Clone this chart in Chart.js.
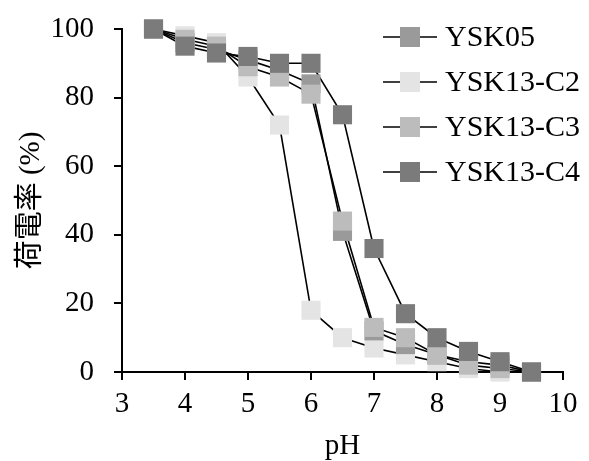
<!DOCTYPE html>
<html>
<head>
<meta charset="utf-8">
<script src="https://cdn.jsdelivr.net/npm/chart.js@4/dist/chart.umd.min.js"></script>
<style>
html,body{margin:0;padding:0;background:#fff;}
#wrap{width:589px;height:461px;}
</style>
</head>
<body>
<div id="wrap"><canvas id="c" width="589" height="461"></canvas></div>
<script>
// ---- data ----
const pH = [3.5, 4, 4.5, 5, 5.5, 6, 6.5, 7, 7.5, 8, 8.5, 9, 9.5];
const ysk05   = [100, 96, 94, 91, 88, 84, 41, 12, 8, 5, 3, 2, 0];
const ysk13C2 = [100, 98, 96, 86, 72, 18, 10, 7, 5, 3, 1, 0, 0];
const ysk13C3 = [100, 97, 95, 89, 86, 81, 44, 13, 10, 5, 2, 1, 0];
const ysk13C4 = [100, 95, 93, 92, 90, 90, 75, 36, 17, 10, 6, 3, 0];
const seriesNames = ['YSK05', 'YSK13-C2', 'YSK13-C3', 'YSK13-C4'];
const xTicks = [3, 4, 5, 6, 7, 8, 9, 10];
const yTicks = [0, 20, 40, 60, 80, 100];

const seriesValues = [ysk05, ysk13C2, ysk13C3, ysk13C4];
const fills = ['#9a9a9a', '#e4e4e4', '#bcbcbc', '#7b7b7b'];
const pointOrder = [2, 3, 1, 0]; // C4 on top

const toXY = vals => pH.map((x, i) => ({x: x, y: vals[i]}));

const datasets = [];
// lines underneath all markers
seriesValues.forEach((vals, i) => {
  datasets.push({
    label: seriesNames[i] + ' line',
    data: toXY(vals),
    showLine: true,
    borderColor: '#000',
    borderWidth: 1.6,
    pointRadius: 0,
    tension: 0,
    clip: false,
    order: 10 + i
  });
});
// markers
seriesValues.forEach((vals, i) => {
  datasets.push({
    label: seriesNames[i],
    data: toXY(vals),
    showLine: false,
    pointStyle: 'rect',
    pointRadius: 13.5,
    pointBackgroundColor: fills[i],
    pointBorderColor: fills[i],
    pointBorderWidth: 0,
    clip: false,
    order: pointOrder[i]
  });
});

const serif = "'Liberation Serif', 'Times New Roman', serif";

const legendPlugin = {
  id: 'customLegend',
  afterDraw(chart) {
    const ctx = chart.ctx;
    const ca = chart.chartArea;
    const x0 = ca.right - 180;
    ctx.save();
    seriesNames.forEach((name, i) => {
      const y = ca.top + 8 + i * 45;
      ctx.strokeStyle = '#000';
      ctx.lineWidth = 1.6;
      ctx.beginPath();
      ctx.moveTo(x0, y);
      ctx.lineTo(x0 + 54, y);
      ctx.stroke();
      ctx.fillStyle = fills[i];
      ctx.fillRect(x0 + 17, y - 10, 20, 20);
      ctx.fillStyle = '#000';
      ctx.font = "30px " + serif;
      ctx.textBaseline = 'middle';
      ctx.textAlign = 'left';
      ctx.fillText(name, x0 + 62, y + 1);
    });
    ctx.restore();
  }
};

new Chart(document.getElementById('c'), {
  type: 'scatter',
  data: { datasets },
  options: {
    responsive: false,
    animation: false,
    events: [],
    layout: { padding: { top: 29, right: 26, left: 0, bottom: 0 } },
    plugins: { legend: { display: false }, tooltip: { enabled: false } },
    scales: {
      x: {
        type: 'linear',
        min: 3, max: 10,
        afterFit: s => { s.height = 89; },
        afterBuildTicks: s => { s.ticks = xTicks.map(v => ({value: v})); },
        border: { display: true, color: '#000', width: 2 },
        grid: { display: true, drawOnChartArea: false, drawTicks: true, tickLength: 8, color: '#000', lineWidth: 2 },
        ticks: { color: '#000', padding: 7, font: { family: serif, size: 29 } },
        title: { display: true, text: 'pH', color: '#000', padding: { top: 0, bottom: 0 }, font: { family: serif, size: 29, lineHeight: 1 } }
      },
      y: {
        type: 'linear',
        min: 0, max: 100,
        afterFit: s => { s.width = 122; s.paddingTop = 0; s.paddingBottom = 0; },
        afterBuildTicks: s => { s.ticks = yTicks.map(v => ({value: v})); },
        border: { display: true, color: '#000', width: 2 },
        grid: { display: true, drawOnChartArea: false, drawTicks: true, tickLength: 8, color: '#000', lineWidth: 2 },
        ticks: { color: '#000', padding: 20, font: { family: serif, size: 29 } },
        title: { display: true, text: '荷電率 (%)', color: '#000', padding: { top: 17, bottom: 0 }, font: { family: "'Liberation Serif', 'Noto Sans CJK JP', serif", size: 29, lineHeight: 1 } }
      }
    }
  },
  plugins: [legendPlugin]
});
</script>
</body>
</html>
